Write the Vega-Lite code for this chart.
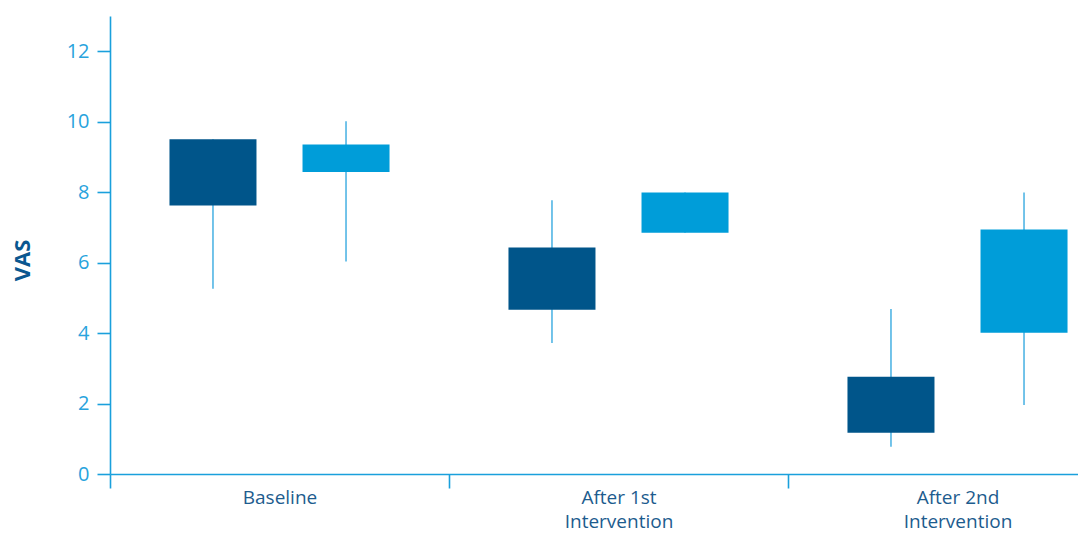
{
  "$schema": "https://vega.github.io/schema/vega-lite/v6.json",
  "width": 1017,
  "height": 458,
  "autosize": "none",
  "padding": {"left": 110, "top": 16, "right": 0, "bottom": 62},
  "background": "white",
  "config": {
    "view": {"stroke": null},
    "font": "Open Sans",
    "axis": {
      "grid": false,
      "domainColor": "#1aa0dc",
      "tickColor": "#1aa0dc",
      "domainWidth": 1.6,
      "tickWidth": 1.6,
      "labelFont": "Open Sans",
      "titleFont": "Open Sans"
    }
  },
  "data": {
    "values": [
      {"group": "Baseline", "series": "A", "min": 5.26, "q1": 7.62, "q3": 9.5, "max": 9.5},
      {"group": "Baseline", "series": "B", "min": 6.03, "q1": 8.57, "q3": 9.35, "max": 10.01},
      {"group": "After 1st\nIntervention", "series": "A", "min": 3.72, "q1": 4.66, "q3": 6.43, "max": 7.77},
      {"group": "After 1st\nIntervention", "series": "B", "min": 6.85, "q1": 6.85, "q3": 7.99, "max": 7.99},
      {"group": "After 2nd\nIntervention", "series": "A", "min": 0.77, "q1": 1.17, "q3": 2.76, "max": 4.68},
      {"group": "After 2nd\nIntervention", "series": "B", "min": 1.96, "q1": 4.01, "q3": 6.94, "max": 7.99}
    ]
  },
  "encoding": {
    "x": {
      "field": "group",
      "type": "nominal",
      "sort": ["Baseline", "After 1st\nIntervention", "After 2nd\nIntervention"],
      "scale": {"paddingInner": 0, "paddingOuter": 0},
      "axis": {
        "title": null,
        "labelAngle": 0,
        "tickBand": "extent",
        "tickSize": 14,
        "labelPadding": 0,
        "labelFontSize": 19,
        "labelColor": "#1d5c8e",
        "labelLineHeight": 24,
        "labelBaseline": "top",
        "labelExpr": "isValid(datum.value) ? split(datum.value, '\\n') : ''"
      }
    },
    "xOffset": {
      "field": "series",
      "type": "nominal",
      "sort": ["A", "B"],
      "scale": {"paddingInner": 0.346, "paddingOuter": 0.447}
    }
  },
  "layer": [
    {
      "mark": {"type": "rule", "stroke": "#45b0e3", "strokeWidth": 1.5},
      "encoding": {
        "y": {
          "field": "min",
          "type": "quantitative",
          "scale": {"domain": [0, 13], "nice": false, "zero": true},
          "axis": {
            "values": [0, 2, 4, 6, 8, 10, 12],
            "tickSize": 13,
            "labelPadding": 8,
            "labelFontSize": 20,
            "labelColor": "#28a3dd",
            "title": "VAS",
            "titleFontSize": 22,
            "titleFontWeight": "bold",
            "titleColor": "#0a5790",
            "titleAngle": -90,
            "titleX": -88,
            "titleY": 244,
            "titleAlign": "center",
            "titleBaseline": "middle"
          }
        },
        "y2": {"field": "max"}
      }
    },
    {
      "mark": {"type": "bar"},
      "encoding": {
        "y": {"field": "q1", "type": "quantitative"},
        "y2": {"field": "q3"},
        "color": {
          "field": "series",
          "type": "nominal",
          "scale": {"domain": ["A", "B"], "range": ["#00558a", "#009dd9"]},
          "legend": null
        }
      }
    }
  ]
}
